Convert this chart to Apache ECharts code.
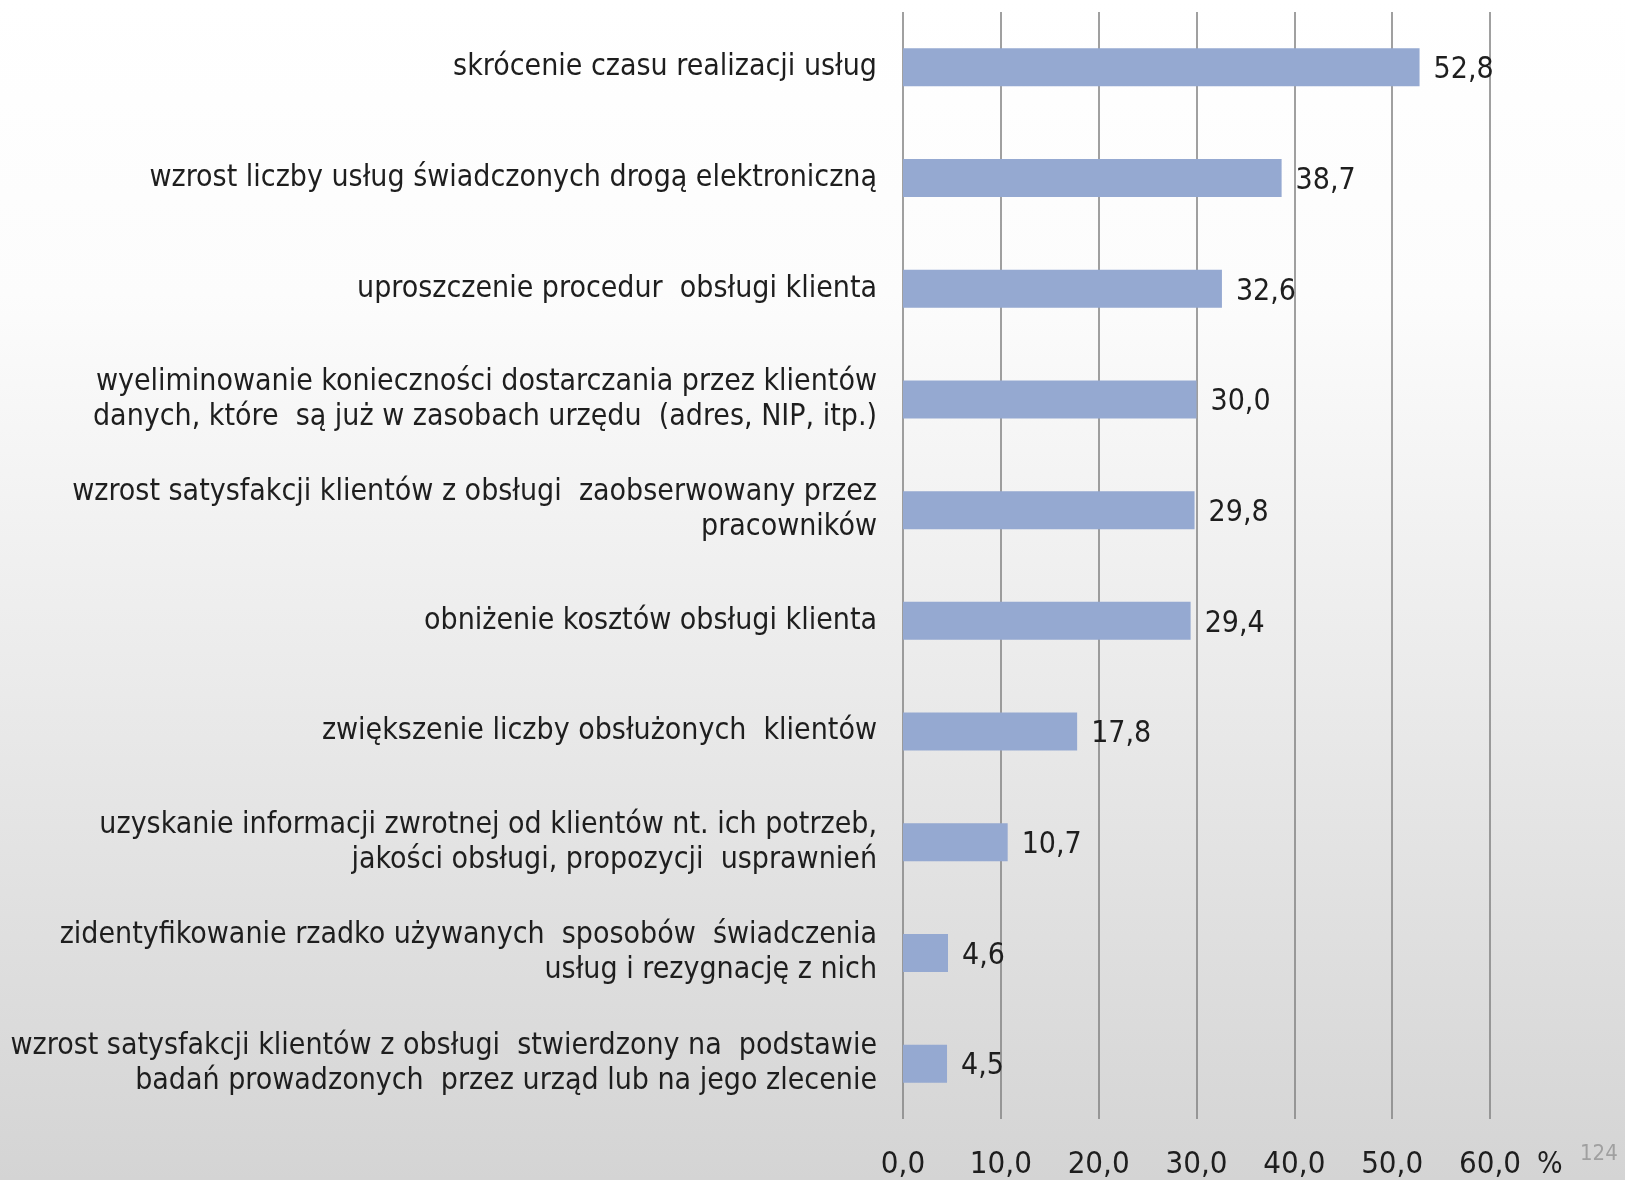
<!DOCTYPE html>
<html>
<head>
<meta charset="utf-8">
<script src="https://cdn.jsdelivr.net/npm/echarts@6/dist/echarts.min.js"></script>
<style>
  html, body { margin: 0; padding: 0; }
  #chart { width: 1625px; height: 1180px; }
</style>
</head>
<body>
<div id="chart"></div>
<script>
// Benefits reported after service changes, share of respondents (%)
const categories = [
  'skrócenie czasu realizacji usług',
  'wzrost liczby usług świadczonych drogą elektroniczną',
  'uproszczenie procedur  obsługi klienta',
  'wyeliminowanie konieczności dostarczania przez klientów\ndanych, które  są już w zasobach urzędu  (adres, NIP, itp.)',
  'wzrost satysfakcji klientów z obsługi  zaobserwowany przez\npracowników',
  'obniżenie kosztów obsługi klienta',
  'zwiększenie liczby obsłużonych  klientów',
  'uzyskanie informacji zwrotnej od klientów nt. ich potrzeb,\njakości obsługi, propozycji  usprawnień',
  'zidentyfikowanie rzadko używanych  sposobów  świadczenia\nusług i rezygnację z nich',
  'wzrost satysfakcji klientów z obsługi  stwierdzony na  podstawie\nbadań prowadzonych  przez urząd lub na jego zlecenie'
];
const values = [52.8, 38.7, 32.6, 30.0, 29.8, 29.4, 17.8, 10.7, 4.6, 4.5];
const axisMin = 0, axisMax = 60, axisStep = 10;
const unitLabel = '%';
const pageNumber = '124';

const FONT = '"Liberation Sans Narrow", "DejaVu Sans Condensed", sans-serif';
const fmt = v => Number(v).toFixed(1).replace('.', ',');

const chart = echarts.init(document.getElementById('chart'));
chart.setOption({
  animation: false,
  backgroundColor: new echarts.graphic.LinearGradient(0, 0, 0, 1, [
    { offset: 0, color: '#ffffff' },
    { offset: 0.25, color: '#fcfcfc' },
    { offset: 1, color: '#d4d4d4' }
  ]),
  grid: { left: 903, right: 135, top: 12, bottom: 59 },
  xAxis: {
    type: 'value',
    min: axisMin,
    max: axisMax,
    interval: axisStep,
    axisLine: { show: false },
    axisTick: { show: false },
    splitLine: { show: true, lineStyle: { color: '#808080', width: 1.5 } },
    axisLabel: {
      formatter: fmt,
      margin: 30,
      fontFamily: FONT,
      fontSize: 31,
      color: '#1e1e1e'
    }
  },
  yAxis: {
    type: 'category',
    inverse: true,
    data: categories,
    axisLine: { show: false },
    axisTick: { show: false },
    axisLabel: {
      margin: 26,
      align: 'right',
      fontFamily: FONT,
      fontSize: 30,
      lineHeight: 35,
      padding: [12, 0, 0, 0],
      color: '#1e1e1e'
    }
  },
  series: [{
    type: 'bar',
    data: values,
    barWidth: 38,
    itemStyle: { color: '#95a9d1' },
    label: {
      show: true,
      position: 'right',
      distance: 14,
      offset: [0, 3],
      formatter: p => fmt(p.value),
      fontFamily: FONT,
      fontSize: 30,
      color: '#1e1e1e'
    }
  }],
  graphic: [
    {
      type: 'text',
      left: 1537,
      top: 1150,
      style: { text: unitLabel, font: '30px ' + FONT, fill: '#1e1e1e' }
    },
    {
      type: 'text',
      left: 1580,
      top: 1143,
      style: { text: pageNumber, font: '22px ' + FONT, fill: '#a0a0a0' }
    }
  ]
});
</script>
</body>
</html>
